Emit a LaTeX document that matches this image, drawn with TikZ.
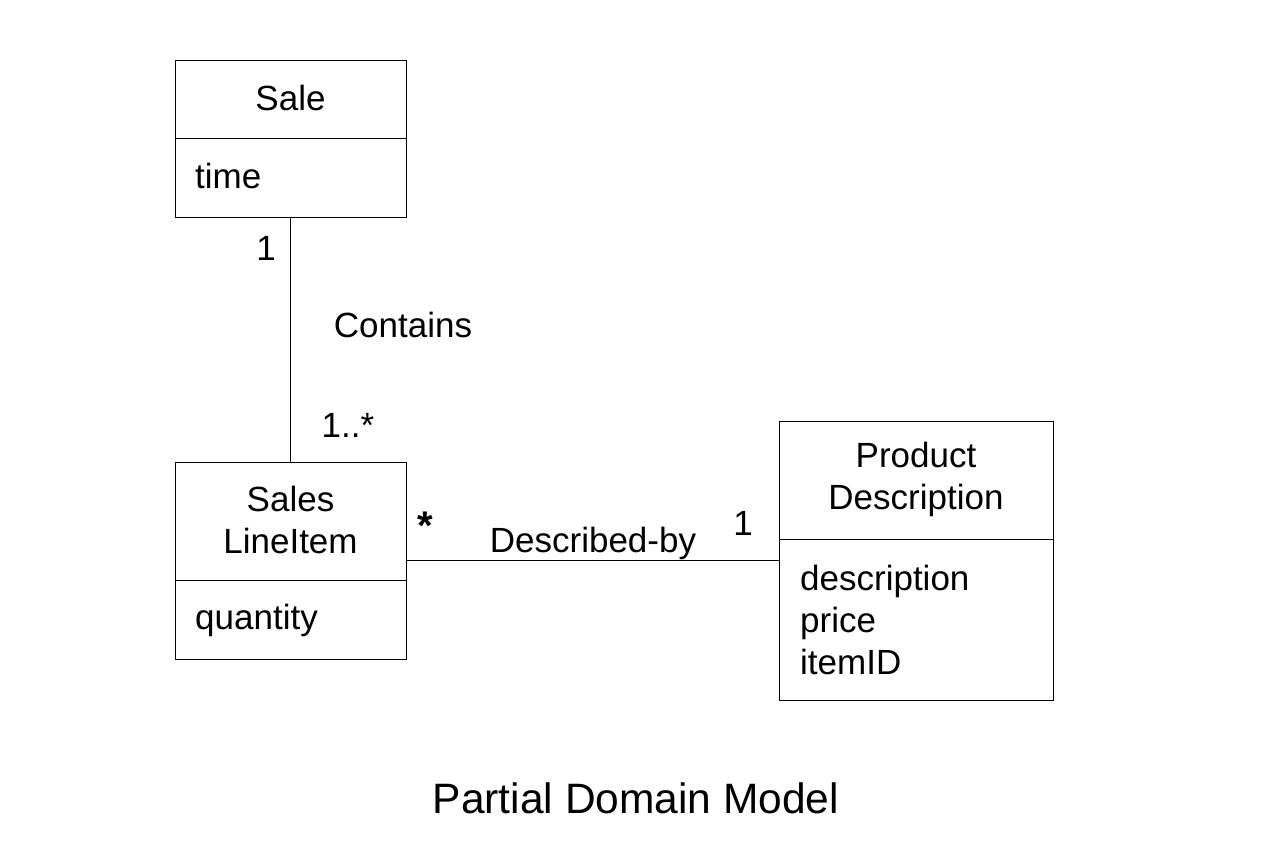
\documentclass[tikz,border=0pt]{standalone}
\usepackage{fontspec}
\setmainfont{Liberation Sans}
\begin{document}
\begin{tikzpicture}[x=1pt,y=-1pt,
  box/.style={draw,line width=1pt},
  lbl/.style={font=\fontsize{35}{42}\selectfont,inner sep=0pt},
  attr/.style={font=\fontsize{35}{42}\selectfont,inner sep=0pt,anchor=west,align=left},
  conn/.style={line width=1pt}]
\useasboundingbox (0,0) rectangle (1286,844);
% Sale
\node[box,minimum width=231pt,minimum height=157pt,inner sep=0pt] (sale) at (290.5,138.5) {};
\draw[conn] (175,138) -- (406,138);
\node[lbl] (saleT) at (290.5,98) {Sale};
\node[attr] (saleA) at (195,176) {time};
% Sales LineItem
\node[box,minimum width=231pt,minimum height=197pt,inner sep=0pt] (sli) at (290.5,560.5) {};
\draw[conn] (175,580) -- (406,580);
\node[lbl,align=center] (sliT) at (290.5,520) {Sales\\LineItem};
\node[attr] (sliA) at (195,620) {quantity};
% Product Description
\node[box,minimum width=274pt,minimum height=279pt,inner sep=0pt] (pd) at (916,560.5) {};
\draw[conn] (779,539) -- (1053,539);
\node[lbl,align=center] (pdT) at (916,479) {Product\\Description};
\node[attr] (pdA) at (800,620) {description\\price\\itemID};
% connectors
\coordinate (slitop) at (290.5,462);
\draw[conn] (sale.south) -- (slitop);
\coordinate (slir) at (406,560);
\coordinate (pdl) at (779,560);
\draw[conn] (slir) -- (pdl);
% labels
\node[lbl] (m1) at (266,248) {1};
\node[lbl] (contains) at (403,325) {Contains};
\node[lbl] (m2) at (348,425) {1..*};
\node[inner sep=0pt,font=\fontsize{40}{40}\selectfont\bfseries] (m3) at (425,526) {*};
\node[lbl] (desc) at (593,543) {Described-by};
\node[lbl] (m4) at (743,523) {1};
\node[inner sep=0pt,font=\fontsize{42.5}{50}\selectfont] (title) at (636,798) {Partial Domain Model};
\end{tikzpicture}
\end{document}
